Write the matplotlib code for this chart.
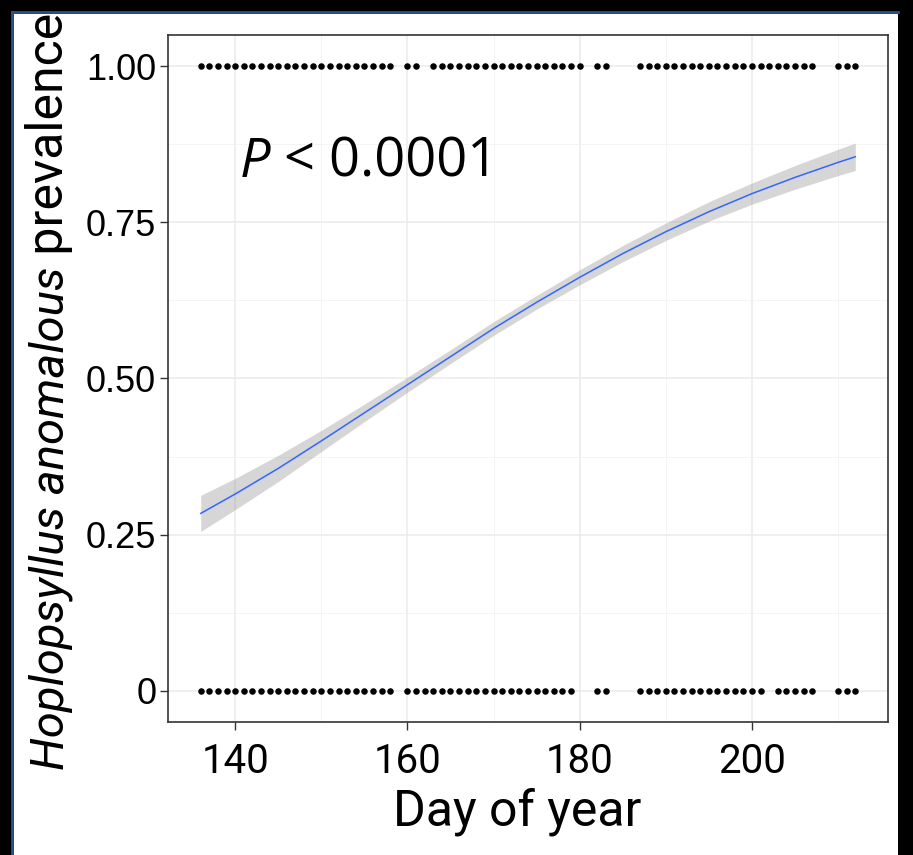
import matplotlib
matplotlib.use("Agg")
import matplotlib.pyplot as plt
from matplotlib.patches import Rectangle
from matplotlib.lines import Line2D

# days with an infested sample (prevalence 1) and without (prevalence 0)
days_pos = [136, 137, 138, 139, 140, 141, 142, 143, 144, 145, 146, 147, 148, 149, 150,
            151, 152, 153, 154, 155, 156, 157, 158, 160, 161,
            163, 164, 165, 166, 167, 168, 169, 170, 171, 172, 173, 174, 175, 176, 177,
            178, 179, 180, 182, 183,
            187, 188, 189, 190, 191, 192, 193, 194, 195, 196, 197, 198, 199, 200, 201,
            202, 203, 204, 205, 206, 207, 210, 211, 212]
days_neg = [136, 137, 138, 139, 140, 141, 142, 143, 144, 145, 146, 147, 148, 149, 150,
            151, 152, 153, 154, 155, 156, 157, 158, 160, 161, 162, 163, 164, 165, 166,
            167, 168, 169, 170, 171, 172, 173, 174, 175, 176, 177, 178, 179, 182, 183,
            187, 188, 189, 190, 191, 192, 193, 194, 195, 196, 197, 198, 199, 200, 201,
            203, 204, 205, 206, 207, 210, 211, 212]

# fitted logistic curve and its confidence band
fit_day = [136, 140, 145, 150, 155, 160, 165, 170, 175, 180, 185, 190, 195, 200, 205, 210, 212]
fit_prev = [0.284, 0.315, 0.356, 0.40, 0.445, 0.49, 0.535, 0.58, 0.622, 0.662,
            0.70, 0.735, 0.767, 0.796, 0.822, 0.846, 0.855]
fit_lo = [0.255, 0.290, 0.335, 0.383, 0.431, 0.478, 0.524, 0.569, 0.611, 0.650,
          0.687, 0.721, 0.752, 0.779, 0.803, 0.825, 0.833]
fit_hi = [0.313, 0.340, 0.377, 0.417, 0.459, 0.502, 0.546, 0.591, 0.633, 0.674,
          0.713, 0.749, 0.783, 0.813, 0.841, 0.867, 0.877]

x_ticks = [140, 160, 180, 200]
x_minor = [150, 170, 190, 210]
y_ticks = [0, 0.25, 0.5, 0.75, 1.0]
y_minor = [0.125, 0.375, 0.625, 0.875]
y_tick_labels = ["0", "0.25", "0.50", "0.75", "1.00"]

W, H = 913, 855
COND = "Roboto"

fig = plt.figure(figsize=(W / 100, H / 100), dpi=100)
fig.patch.set_facecolor("black")
fig.patches.append(Rectangle((14 / W, 0), (898 - 14) / W, 1 - 14 / H,
                             transform=fig.transFigure, facecolor="white",
                             edgecolor="none", zorder=-10))
fig.add_artist(Line2D([12 / W, 12 / W], [0, 1 - 12 / H], color="#2f4f8f", lw=2,
                      transform=fig.transFigure, zorder=-5))
fig.add_artist(Line2D([12 / W, 898 / W], [1 - 12 / H, 1 - 12 / H], color="#2f4f8f", lw=2,
                      transform=fig.transFigure, zorder=-5))

ax = fig.add_axes([168 / W, 1 - 722 / H, 720 / W, 687 / H])
ax.set_facecolor("white")

ax.fill_between(fit_day, fit_lo, fit_hi, color="#999999", alpha=0.4, lw=0, zorder=2)
ax.plot(fit_day, fit_prev, color="#3366FF", lw=1.1, zorder=3)
ax.scatter(days_pos, [1] * len(days_pos), s=22, color="black", lw=0, zorder=4)
ax.scatter(days_neg, [0] * len(days_neg), s=22, color="black", lw=0, zorder=4)

ax.set_xlim(132.2, 215.8)
ax.set_ylim(-0.05, 1.05)
ax.set_xticks(x_ticks)
ax.set_xticks(x_minor, minor=True)
ax.set_yticks(y_ticks)
ax.set_yticks(y_minor, minor=True)
ax.set_yticklabels(y_tick_labels, fontfamily="Liberation Sans", fontsize=26)
ax.set_xticklabels([str(t) for t in x_ticks], fontfamily=COND, fontsize=29)
ax.grid(which="major", color="#ebebeb", lw=1.1)
ax.grid(which="minor", color="#f2f2f2", lw=0.6)
ax.set_axisbelow(True)
ax.tick_params(which="major", length=5.5, width=1, color="#333333")
ax.tick_params(axis="y", pad=3)
ax.tick_params(axis="x", pad=9)
ax.tick_params(which="minor", length=0)
for s in ax.spines.values():
    s.set_color("#333333")
    s.set_linewidth(1.2)

# P value label: italic P followed by upright text
t_p = ax.text(140.5, 0.823, "P", fontfamily="Open Sans", style="italic", fontsize=39,
              va="baseline", ha="left")
# axis labels
fig.text(517 / W, 1 - 825 / H, "Day of year", fontfamily=COND, fontsize=36,
         ha="center", va="baseline")
t_y1 = fig.text(63 / W, 1 - 770 / H, "Hoplopsyllus anomalous", fontfamily=COND,
                style="italic", fontsize=34, rotation=90, rotation_mode="anchor",
                ha="left", va="baseline")

fig.canvas.draw()
r = fig.canvas.get_renderer()
bb = t_p.get_window_extent(r)
x0, y0 = ax.transData.transform((140.5, 0.823))
fig.text(bb.x1 / W, y0 / H, " < 0.0001", fontfamily="Open Sans", fontsize=39,
         ha="left", va="baseline")
bb = t_y1.get_window_extent(r)
fig.text(63 / W, bb.y1 / H, " prevalence", fontfamily=COND, fontsize=36, rotation=90,
         rotation_mode="anchor", ha="left", va="baseline")

fig.savefig("out.png", dpi=100, facecolor=fig.get_facecolor())
